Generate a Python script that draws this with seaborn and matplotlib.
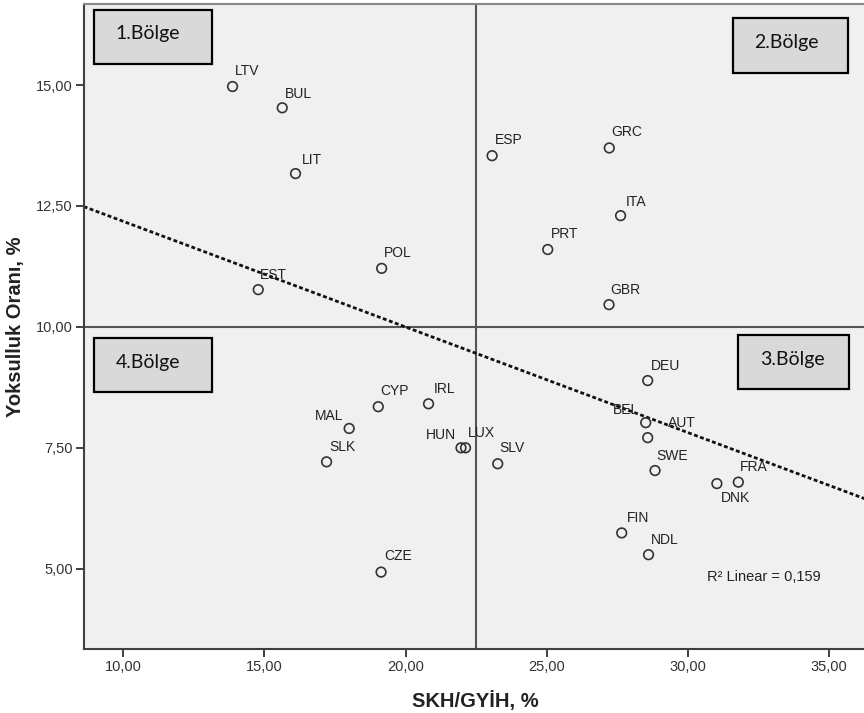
"""SKH/GYİH vs Yoksulluk Oranı scatter with quadrant boxes. Saves out.png."""
import matplotlib
matplotlib.use("Agg")
import matplotlib.pyplot as plt
import matplotlib.ticker as mticker
from matplotlib.patches import Rectangle
import pandas as pd
import seaborn as sns

# data
countries = ["LTV", "BUL", "LIT", "EST", "POL", "ESP", "GRC", "ITA", "PRT", "GBR",
             "CYP", "IRL", "MAL", "SLK", "HUN", "LUX", "CZE", "DEU", "BEL", "AUT",
             "SLV", "SWE", "DNK", "FRA", "FIN", "NDL"]
skh_gyih = [13.87, 15.63, 16.10, 14.78, 19.15, 23.06, 27.21, 27.61, 25.03, 27.20,
            19.03, 20.81, 18.00, 17.20, 21.96, 22.12, 19.13, 28.57, 28.50, 28.57,
            23.26, 28.83, 31.02, 31.78, 27.65, 28.60]
poverty = [14.97, 14.53, 13.17, 10.77, 11.21, 13.54, 13.70, 12.30, 11.60, 10.46,
           8.35, 8.41, 7.90, 7.21, 7.50, 7.50, 4.93, 8.89, 8.02, 7.71,
           7.17, 7.03, 6.76, 6.79, 5.74, 5.29]
x_ticks = [10, 15, 20, 25, 30, 35]
y_ticks = [5, 7.5, 10, 12.5, 15]
x_split = 22.5
y_split = 10.0
regions = ["1.Bölge", "2.Bölge", "3.Bölge", "4.Bölge"]
r2_text = "R² Linear = 0,159"

df = pd.DataFrame({"country": countries, "x": skh_gyih, "y": poverty})

# label offsets in pixels (dx, dy, ha)
offsets = {
    "LTV": (2, 16, "left"), "BUL": (3, 14, "left"), "LIT": (6, 14, "left"),
    "EST": (2, 15, "left"), "POL": (2, 15, "left"), "ESP": (3, 16, "left"),
    "GRC": (2, 16, "left"), "ITA": (5, 14, "left"), "PRT": (3, 16, "left"),
    "GBR": (1, 15, "left"), "CYP": (2, 16, "left"), "IRL": (5, 15, "left"),
    "MAL": (-6, 12, "right"), "SLK": (3, 15, "left"), "HUN": (-5, 13, "right"),
    "LUX": (2, 15, "left"), "CZE": (3, 16, "left"), "DEU": (3, 15, "left"),
    "BEL": (-7, 13, "right"), "AUT": (20, 15, "left"), "SLV": (2, 16, "left"),
    "SWE": (1, 15, "left"), "DNK": (4, -14, "left"), "FRA": (2, 15, "left"),
    "FIN": (5, 15, "left"), "NDL": (2, 15, "left"),
}

sns.set_style("white")
plt.rcParams["font.family"] = ["Liberation Sans", "DejaVu Sans"]

fig = plt.figure(figsize=(8.64, 7.13), dpi=100)
ax = fig.add_axes([83.7 / 864, 64 / 713, 782.3 / 864, 644.7 / 713])
ax.set_facecolor("#f0f0f0")
ax.set_xlim(8.6, 36.3)
ax.set_ylim(3.34, 16.67)

# reference lines splitting the quadrants
ax.axvline(x_split, color="#555555", lw=1.5, zorder=1)
ax.axhline(y_split, color="#555555", lw=1.5, zorder=1)

# linear fit over the full x range
sns.regplot(data=df, x="x", y="y", ax=ax, scatter=False, ci=None, truncate=False,
            line_kws=dict(color="#111111", lw=2.0, ls=(0, (1.4, 0.9)), zorder=2))

sns.scatterplot(data=df, x="x", y="y", ax=ax, s=48, facecolor="none",
                edgecolor="#333333", linewidth=1.2, zorder=3)

for _, row in df.iterrows():
    dx, dy, ha = offsets[row["country"]]
    ax.annotate(row["country"], (row["x"], row["y"]), xytext=(dx, dy),
                textcoords="offset pixels", ha=ha, va="center",
                fontsize=10, color="#222222", zorder=4)

# quadrant boxes
boxes = {
    "1.Bölge": (0.0136, 0.907, 0.150, 0.0842, 0.0409, 0.954),
    "2.Bölge": (0.8304, 0.894, 0.147, 0.0844, 0.857, 0.940),
    "3.Bölge": (0.8368, 0.4028, 0.1414, 0.0847, 0.8645, 0.4483),
    "4.Bölge": (0.0136, 0.398, 0.150, 0.0847, 0.0409, 0.4447),
}
for name in regions:
    bx, by, bw, bh, tx, ty = boxes[name]
    ax.add_patch(Rectangle((bx, by), bw, bh, transform=ax.transAxes,
                           facecolor="#d9d9d9", edgecolor="black", lw=1.6, zorder=5))
    ax.text(tx, ty, name, transform=ax.transAxes, ha="left", va="center",
            fontsize=14, family=["Lato", "DejaVu Sans"], color="#111111", zorder=6)

ax.text(0.7964, 0.1112, r2_text, transform=ax.transAxes, ha="left", va="center",
        fontsize=10.5, color="#222222")

ax.set_xticks(x_ticks)
ax.set_yticks(y_ticks)
fmt = mticker.FuncFormatter(lambda v, p: f"{v:.2f}".replace(".", ","))
ax.xaxis.set_major_formatter(fmt)
ax.yaxis.set_major_formatter(fmt)
ax.tick_params(direction="out", length=6, width=1.3, color="#333333",
               labelsize=10.5, labelcolor="#333333", pad=2, bottom=True, left=True)

for side in ["left", "bottom"]:
    ax.spines[side].set_color("#404040")
    ax.spines[side].set_linewidth(1.5)
for side in ["top", "right"]:
    ax.spines[side].set_color("#888888")
    ax.spines[side].set_linewidth(1.5)

ax.set_xlabel("SKH/GYİH, %", fontsize=14.5, fontweight="bold", color="#222222", labelpad=12)
ax.set_ylabel("Yoksulluk Oranı, %", fontsize=14.5, fontweight="bold", color="#222222", labelpad=8)

fig.savefig("out.png", dpi=100, facecolor="white")
